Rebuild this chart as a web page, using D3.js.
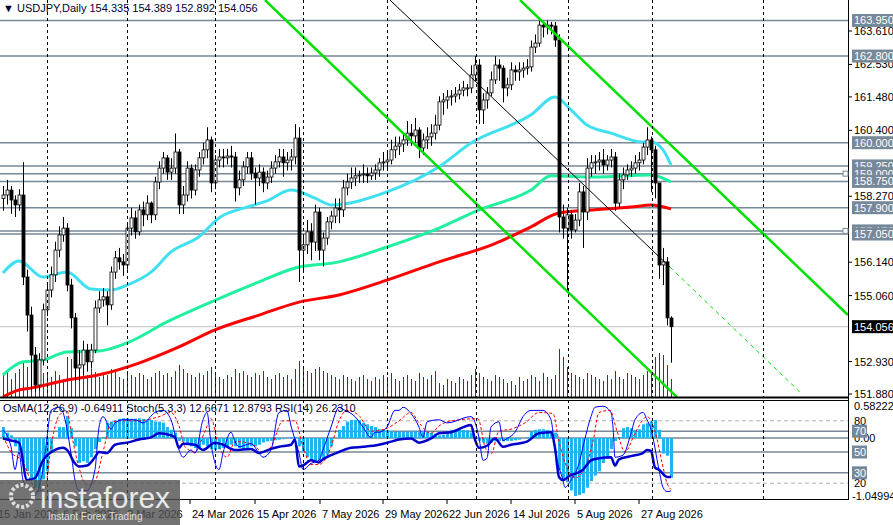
<!DOCTYPE html>
<html>
<head>
<meta charset="utf-8">
<script src="https://d3js.org/d3.v7.min.js"></script>
<style>
  body { margin: 0; background: #fff; }
  svg { display: block; font-family: "Liberation Sans", Arial, sans-serif; }
</style>
</head>
<body>
<svg id="chart" width="893" height="525"></svg>
<script>
// daily closes, USDJPY
var closes = [158.31,158.47,158.15,157.99,158.31,155.66,154.43,153.14,152.17,152.98,
154.60,155.24,155.73,156.53,157.02,157.24,155.40,154.34,152.72,152.82,
153.30,152.92,153.30,154.66,154.92,155.02,154.76,155.82,156.28,156.15,
156.05,157.24,157.57,157.12,157.83,157.67,158.05,157.67,158.73,159.18,
159.51,159.05,159.18,159.70,157.99,158.31,159.18,158.47,159.12,159.51,
159.77,160.09,158.70,159.44,159.54,159.51,159.57,159.54,158.54,158.80,
159.22,159.51,159.02,158.86,159.05,158.70,158.89,159.18,159.38,159.54,
159.35,159.44,159.54,160.15,156.53,156.70,157.12,156.79,157.76,156.53,
156.92,157.44,157.63,157.89,157.83,158.54,158.73,158.86,158.93,158.96,
158.99,158.93,159.02,159.12,159.35,159.38,159.44,159.77,159.89,159.96,
160.09,160.31,160.22,160.41,159.83,160.09,160.19,160.31,160.57,161.32,
161.38,161.48,161.51,161.57,161.70,161.77,161.77,162.19,162.51,161.06,
161.38,161.61,162.03,162.51,162.41,161.77,161.87,162.35,162.29,162.35,
162.41,162.45,163.09,163.22,163.80,163.74,163.80,163.77,163.32,157.60,
157.24,157.67,157.18,157.50,158.41,157.76,159.18,159.35,159.38,159.44,
159.28,159.44,159.54,158.05,158.80,158.96,159.12,159.18,159.35,159.44,
159.86,160.09,159.77,158.70,156.05,156.15,154.34,154.056];
var opens = [158.20].concat(closes.slice(0, -1));
opens[167] = 154.335;
var highs = [158.6,158.8,158.6,158.3,158.5,159.37,155.9,154.7,153.4,153.2,
154.8,155.4,156.0,156.8,157.3,157.6,157.4,155.6,154.5,153.3,
153.6,153.5,153.5,154.9,155.2,155.3,155.2,156.0,156.5,156.6,
156.4,157.4,157.9,157.8,158.0,158.1,158.3,158.1,158.9,159.4,
159.7,159.6,159.5,160.3,159.8,158.6,159.4,159.3,159.3,159.7,
160.0,160.5,160.2,159.6,159.8,159.8,159.8,159.9,159.7,159.1,
159.4,159.7,159.7,159.2,159.3,159.2,159.1,159.4,159.6,159.8,
159.8,159.7,159.8,160.6,160.5,157.0,157.5,157.4,158.0,157.9,
157.1,157.6,157.8,158.2,158.2,158.8,159.0,159.2,159.2,159.1,
159.3,159.2,159.2,159.3,159.5,159.7,159.7,160.1,160.2,160.2,
160.3,160.7,160.6,160.8,160.5,160.3,160.5,160.6,160.9,161.5,
161.6,161.7,161.7,161.8,161.9,162.0,161.9,162.5,162.8,162.7,
161.6,161.8,162.3,162.8,162.7,162.5,162.1,162.6,162.5,162.6,
162.6,162.7,163.3,163.5,163.95,163.9,163.95,163.9,163.9,163.5,
158.0,157.9,157.8,157.7,158.7,158.6,159.5,159.6,159.6,159.7,
159.8,159.6,159.8,159.7,159.0,159.2,159.3,159.4,159.6,159.7,
160.0,160.5,160.2,159.9,158.7,156.6,156.3,154.389];
var lows = [157.8,158.0,157.7,157.6,157.8,155.4,153.9,152.0,151.95,152.0,
152.8,154.4,155.0,155.5,156.3,156.8,155.2,154.0,152.3,152.3,
152.5,152.6,152.7,153.2,154.5,154.7,154.1,154.6,155.6,155.9,
155.7,155.9,157.0,156.9,157.0,157.3,157.5,157.4,157.5,158.5,
159.0,158.8,158.8,159.0,157.7,157.7,158.1,158.2,158.3,158.9,
159.3,159.5,158.4,158.5,159.2,159.2,159.3,159.2,158.1,158.3,
158.6,159.0,158.8,158.0,158.6,158.4,158.5,158.7,159.0,159.2,
158.9,159.1,159.1,159.3,155.5,155.8,156.4,156.2,156.5,156.2,
156.0,156.7,157.2,157.4,157.4,157.6,158.3,158.5,158.6,158.7,
158.7,158.7,158.8,158.8,158.9,159.1,159.1,159.3,159.5,159.6,
159.7,159.9,159.9,160.0,159.5,159.6,159.8,159.9,160.1,160.4,
160.9,161.1,161.2,161.3,161.4,161.5,161.5,161.6,162.0,160.6,
160.6,161.1,161.5,161.9,162.0,161.3,161.5,161.7,162.0,162.0,
162.1,162.2,162.3,162.9,163.1,163.4,163.5,163.5,163.1,157.1,
156.9,155.2,156.9,157.1,157.3,156.6,157.5,158.9,159.0,159.1,
159.0,159.1,159.2,157.8,157.9,158.5,158.8,158.9,159.0,159.1,
159.3,159.6,158.4,158.2,155.6,155.4,154.1,152.892];
var volumes = [22,25,18,24,28,36,30,34,28,26, 24,22,20,26,22,18,40,38,34,30,
26,22,28,25,20,24,22,28,26,20, 18,26,22,20,24,22,18,20,24,26,
22,24,20,26,32,28,24,22,20,24, 22,26,30,24,20,18,22,20,28,24,
26,22,20,24,22,26,20,18,22,24, 20,22,18,28,36,30,26,24,28,30,
26,24,22,20,18,22,20,18,16,20, 22,18,16,20,18,22,20,24,18,16,
20,22,18,16,24,20,18,22,26,14, 12,18,16,14,20,18,16,22,28,24,
20,18,16,22,20,18,14,16,12,20, 16,18,22,20,16,24,20,18,22,48,
40,30,24,22,20,18,24,22,20,18, 16,22,18,26,20,18,24,22,20,18,
22,26,24,40,44,42,32,18];

// moving averages, [bar, price]
var maFast = [[0,155.79],[4,156.18],[10,155.66],[16,155.82],[22,155.27],[27,155.24],[31,155.40],[37,155.82],[42,156.47],[49,156.96],[54,157.57],[61,157.92],[66,158.12],[72,158.47],[78,158.21],[82,157.99],[96,158.41],[109,159.22],[117,159.99],[132,160.90],[138,161.48],[142,161.06],[146,160.57],[152,160.31],[160,160.02],[162,160.02],[165,159.77],[167,159.28]];
var maMid = [[0,152.50],[5,152.92],[10,152.98],[16,153.24],[24,153.27],[31,153.53],[41,154.21],[52,154.85],[64,155.50],[73,155.95],[84,156.15],[96,156.63],[109,157.24],[119,157.83],[132,158.47],[137,158.93],[148,158.89],[162,158.96],[167,158.73]];
var maSlow = [[0,151.79],[4,152.01],[7,152.07],[16,152.33],[24,152.50],[34,152.88],[44,153.40],[53,153.95],[64,154.43],[74,154.85],[84,155.08],[96,155.56],[109,156.15],[123,156.74],[132,157.28],[139,157.73],[148,157.83],[157,157.92],[162,157.99],[167,157.86]];

// trend channel lines [bar, price]
var channelA = [[65.5,164.61],[168.5,151.78]];
var channelB = [[129.25,164.61],[211.25,154.43]];
var trendThin = [[96.75,164.61],[166.75,155.98]];
var trendDash = [[166.75,155.98],[199.25,151.94]];

var levels = [163.95,162.80,160.00,159.25,159.00,158.75,157.90,157.15,157.05];
var priceTicks = [163.610,162.530,161.480,160.400,158.270,156.140,155.060,152.930,151.880];
var lastPrice = 154.056;

// oscillators
var osma = [0.2,0.1,0.05,-0.15,-0.25,-0.45,-0.6,-0.75,-0.9,-0.98,
-0.75,-0.6,-0.27,0.0,0.2,0.2,0.4,0.18,-0.15,-0.45,
-0.42,-0.45,-0.35,-0.2,-0.07,0.02,0.28,0.3,0.32,0.35,
0.36,0.36,0.35,0.35,0.36,0.35,0.34,0.33,0.3,0.3,
0.28,0.2,0.15,0.1,-0.05,-0.06,-0.1,-0.15,-0.18,-0.2,
-0.12,-0.15,-0.2,-0.22,-0.2,-0.18,-0.15,-0.12,-0.15,-0.18,
-0.2,-0.2,-0.15,-0.15,-0.12,-0.08,-0.06,-0.05,-0.04,-0.03,
-0.02,0.01,0.02,0.02,-0.15,-0.25,-0.35,-0.4,-0.42,-0.42,
-0.38,-0.3,-0.15,0.0,0.15,0.22,0.3,0.33,0.33,0.32,
0.28,0.25,0.22,0.2,0.16,0.15,0.14,0.12,0.12,0.12,
0.11,0.12,0.12,0.13,0.11,0.12,0.11,0.1,0.08,0.05,
0.06,0.1,0.15,0.15,0.16,0.15,0.14,0.1,0.02,-0.05,
-0.08,-0.1,-0.08,-0.06,-0.05,-0.06,-0.05,-0.05,-0.04,-0.03,
0.0,0.02,0.12,0.15,0.16,0.16,0.15,0.13,0.1,-0.58,
-0.75,-0.8,-0.95,-1.05,-1.03,-1.0,-0.9,-0.78,-0.68,-0.6,
-0.45,-0.37,-0.2,-0.05,0.02,0.18,0.2,0.18,0.15,0.16,
0.25,0.27,0.3,0.33,0.15,-0.28,-0.32,-0.72];
var rsi = [[0,63],[2,61],[4,59],[6,23],[8,25],[10,42],[13,52],[15,54],[16,52],[18,39],[19,36],[21,37],[23,45],[24,50],[26,49],[28,57],[31,59],[34,62],[37,64],[39,68],[42,66],[43,64],[44,54],[45,58],[48,57],[50,52],[53,59],[55,57],[58,52],[62,53],[64,49],[67,53],[69,55],[72,57],[73,62],[74,36],[75,37],[77,42],[79,40],[80,43],[82,47],[84,50],[87,54],[90,55],[94,57],[97,60],[99,62],[102,63],[104,59],[107,63],[109,68],[112,69],[117,76],[118,62],[119,54],[121,56],[123,63],[125,55],[127,57],[131,60],[134,68],[137,69],[138,54],[139,26],[140,23],[142,28],[143,29],[145,33],[147,42],[149,44],[152,45],[153,37],[154,43],[157,46],[160,49],[161,52],[162,51],[163,35],[164,33],[166,26],[167,26]];
var stochMain = [[0,71],[2,55],[3,33],[4,50],[5,23],[7,11],[7.5,7],[10,33],[11,64],[12,90],[14,93],[15,88],[17,49],[18,23],[19,13],[21,13],[23,33],[24,74],[25,84],[27,72],[28,78],[30,81],[33,81],[35,78],[38,88],[40,90],[42,81],[44,52],[45,45],[47,52],[48,49],[50,81],[51,88],[52,58],[54,33],[55,49],[57,69],[58,60],[59,55],[62,58],[64,49],[65,45],[67,52],[69,88],[71,90],[72,75],[73,62],[74,49],[75,33],[77,39],[79,42],[80,52],[82,74],[84,93],[85,91],[88,84],[90,74],[92,64],[93,69],[94,69],[96,74],[98,90],[99,90],[100,93],[102,87],[104,74],[105,64],[106,79],[109,81],[111,78],[117,84],[119,64],[120,42],[121,44],[122,74],[124,79],[125,61],[126,63],[128,69],[130,84],[132,90],[135,90],[137,81],[138,52],[140,23],[140.5,16],[142,23],[144,39],[145,55],[147,84],[148,93],[150,94],[152,88],[152.5,74],[153,45],[155,47],[157,68],[158,81],[160,88],[161,81],[162,72],[164,33],[165,16],[166,12],[167,12.6]];
var stochSignal = [[0,65],[2,50],[5,40],[7,22],[8.5,12],[10.5,15],[12,55],[14,85],[16,90],[17,70],[19,35],[21,18],[23,22],[25,50],[27,78],[29,80],[34,80],[39,84],[42,88],[44,75],[45.5,55],[48,50],[50.5,70],[52,82],[54,55],[56,45],[58,60],[62,58],[65,50],[67,55],[70,80],[73,80],[75,55],[77,38],[79,38],[82,55],[84,80],[86,90],[89,85],[92,70],[95.5,72],[99,80],[102,88],[104,78],[107,68],[109,75],[112,80],[118.75,82],[120.5,55],[122,48],[124,70],[127,72],[130.5,78],[134,88],[137.5,87],[139,60],[141,35],[143,25],[145.5,35],[147.5,60],[149,88],[151.75,90],[153.5,70],[155.5,50],[158,68],[161,84],[163,70],[164.75,40],[166,20],[167,14]];

var dateLabels = ["15 Jan 2026","6 Feb 2026","2 Mar 2026","24 Mar 2026","15 Apr 2026","7 May 2026","29 May 2026","22 Jun 2026","14 Jul 2026","5 Aug 2026","27 Aug 2026"];
var dateIdx = [-1.75,14.5,30.5,46.75,63,79.25,95,111,127,143,159];
var gridIdx = [11,31,53,75,96,118.25,141.25,162.25,190];
var oscLevels = [70,50,30];
var oscDashed = [80,20];

var svg = d3.select("#chart");
var W = 848;

// scales
var x = d3.scaleLinear().domain([0, 167]).range([3, 671]);
var y = d3.scaleLinear().domain([151.88, 163.61]).range([394, 31]);
var yo = d3.scaleLinear().domain([-1.04994, 0.58222]).range([496, 406]);
var ys = d3.scaleLinear().domain([0, 100]).range([504, 400]);
var yv = d3.scaleLinear().domain([0, 100]).range([397, 297]);

svg.append("clipPath").attr("id", "cm").append("rect").attr("x", 0).attr("y", 0).attr("width", W).attr("height", 397);
svg.append("clipPath").attr("id", "co").append("rect").attr("x", 0).attr("y", 400).attr("width", W).attr("height", 99);

var main = svg.append("g").attr("clip-path", "url(#cm)");
var osc = svg.append("g").attr("clip-path", "url(#co)");

// vertical dashed grid
gridIdx.forEach(function (g) {
  [[0, 397], [400, 499]].forEach(function (r) {
    svg.append("line").attr("x1", Math.round(x(g)) + 0.5).attr("x2", Math.round(x(g)) + 0.5).attr("y1", r[0]).attr("y2", r[1])
      .attr("stroke", "#000").attr("stroke-dasharray", "3,3").attr("stroke-width", 1);
  });
});

// horizontal levels
levels.forEach(function (l) {
  main.append("line").attr("x1", 0).attr("x2", W).attr("y1", y(l)).attr("y2", y(l))
    .attr("stroke", "#778899").attr("stroke-width", 1.5);
});
main.append("line").attr("x1", 0).attr("x2", W).attr("y1", y(lastPrice)).attr("y2", y(lastPrice))
  .attr("stroke", "#c0c0c0");

// volumes
main.selectAll(".vol").data(volumes).enter().append("rect")
  .attr("x", function (d, i) { return Math.round(x(i)); }).attr("width", 1.2)
  .attr("y", function (d) { return yv(d); })
  .attr("height", function (d) { return yv(0) - yv(d); })
  .attr("fill", "#006400").attr("shape-rendering", "crispEdges");

// moving averages
var maLine = d3.line().x(function (d) { return x(d[0]); }).y(function (d) { return y(d[1]); }).curve(d3.curveMonotoneX);
main.append("path").attr("d", maLine(maSlow)).attr("fill", "none").attr("stroke", "#ff0000").attr("stroke-width", 3);
main.append("path").attr("d", maLine(maMid)).attr("fill", "none").attr("stroke", "#20f0a0").attr("stroke-width", 3);
main.append("path").attr("d", maLine(maFast)).attr("fill", "none").attr("stroke", "#40e0f0").attr("stroke-width", 3);

// candles
var candle = main.selectAll(".c").data(closes).enter().append("g");
candle.append("line")
  .attr("x1", function (d, i) { return Math.round(x(i)) + 0.5; }).attr("x2", function (d, i) { return Math.round(x(i)) + 0.5; })
  .attr("y1", function (d, i) { return y(highs[i]); }).attr("y2", function (d, i) { return y(lows[i]); })
  .attr("stroke", "#000");
candle.append("rect")
  .attr("x", function (d, i) { return Math.round(x(i)) - 1; }).attr("width", 3)
  .attr("y", function (d, i) { return y(Math.max(d, opens[i])); })
  .attr("height", function (d, i) { return Math.max(1, Math.abs(y(d) - y(opens[i]))); })
  .attr("fill", function (d, i) { return d >= opens[i] ? "#fff" : "#000"; })
  .attr("stroke", "#000").attr("stroke-width", 0.8);

// trend lines
var tl = d3.line().x(function (d) { return x(d[0]); }).y(function (d) { return y(d[1]); });
main.append("path").attr("d", tl(channelA)).attr("stroke", "#00e000").attr("stroke-width", 2.5).attr("fill", "none");
main.append("path").attr("d", tl(channelB)).attr("stroke", "#00e000").attr("stroke-width", 2.5).attr("fill", "none");
main.append("path").attr("d", tl(trendThin)).attr("stroke", "#000").attr("stroke-width", 1).attr("fill", "none");
main.append("path").attr("d", tl(trendDash)).attr("stroke", "#00e000").attr("stroke-width", 1).attr("stroke-dasharray", "4,4").attr("fill", "none");

// oscillator panel
oscDashed.forEach(function (l) {
  osc.append("line").attr("x1", 0).attr("x2", W).attr("y1", ys(l)).attr("y2", ys(l))
    .attr("stroke", "#b0b0b0").attr("stroke-dasharray", "4,3");
});
oscLevels.forEach(function (l) {
  osc.append("line").attr("x1", 0).attr("x2", W).attr("y1", ys(l)).attr("y2", ys(l)).attr("stroke", "#778899").attr("stroke-width", 1.5);
});
osc.append("line").attr("x1", 0).attr("x2", W).attr("y1", yo(0)).attr("y2", yo(0)).attr("stroke", "#778899").attr("stroke-width", 1.5);

osc.selectAll(".h").data(osma).enter().append("rect")
  .attr("x", function (d, i) { return Math.round(x(i)) - 1; }).attr("width", 3)
  .attr("y", function (d) { return Math.min(yo(d), yo(0)); })
  .attr("height", function (d) { return Math.abs(yo(d) - yo(0)); })
  .attr("fill", "#1eb4f0");

var ol = d3.line().x(function (d) { return x(d[0]); }).y(function (d) { return ys(d[1]); }).curve(d3.curveMonotoneX);
osc.append("path").attr("d", ol(stochSignal)).attr("fill", "none").attr("stroke", "#ff0000").attr("stroke-width", 1).attr("stroke-dasharray", "3,2");
osc.append("path").attr("d", ol(stochMain)).attr("fill", "none").attr("stroke", "#0000ff").attr("stroke-width", 1);
osc.append("path").attr("d", ol(rsi)).attr("fill", "none").attr("stroke", "#0000cd").attr("stroke-width", 2.5);

// frames
svg.append("line").attr("x1", W + 0.5).attr("x2", W + 0.5).attr("y1", 0).attr("y2", 500).attr("stroke", "#000");
svg.append("line").attr("x1", 0).attr("x2", W).attr("y1", 397.5).attr("y2", 397.5).attr("stroke", "#000").attr("stroke-width", 2);
svg.append("line").attr("x1", 0).attr("x2", W).attr("y1", 400.5).attr("y2", 400.5).attr("stroke", "#000");
svg.append("line").attr("x1", 0).attr("x2", W).attr("y1", 499.5).attr("y2", 499.5).attr("stroke", "#000");

// right price axis
var ax = svg.append("g").attr("font-size", 11);
priceTicks.forEach(function (p) {
  ax.append("line").attr("x1", W).attr("x2", W + 4).attr("y1", y(p)).attr("y2", y(p)).attr("stroke", "#000");
  ax.append("text").attr("x", W + 6).attr("y", y(p) + 4).text(p.toFixed(3));
});
levels.forEach(function (l) {
  ax.append("rect").attr("x", W + 4).attr("y", y(l) - 6.5).attr("width", 41).attr("height", 13).attr("fill", "#778899");
  ax.append("text").attr("x", W + 6).attr("y", y(l) + 4).attr("fill", "#fff").text(l.toFixed(3));
});
ax.append("rect").attr("x", W + 4).attr("y", y(lastPrice) - 6.5).attr("width", 41).attr("height", 13).attr("fill", "#000");
ax.append("text").attr("x", W + 6).attr("y", y(lastPrice) + 4).attr("fill", "#fff").text(lastPrice.toFixed(3));
[159.00, 157.15].forEach(function (l) {
  svg.append("rect").attr("x", W - 5).attr("y", y(l) - 2.5).attr("width", 5).attr("height", 5).attr("fill", "#fff").attr("stroke", "#778899");
});

// oscillator axis
ax.append("text").attr("x", W + 6).attr("y", yo(0.58222) + 4).text("0.58222");
ax.append("text").attr("x", W + 4).attr("y", yo(-1.04994) + 4).text("-1.04994");
ax.append("text").attr("x", W + 6).attr("y", yo(0) + 4).text("0.00");
oscDashed.forEach(function (l) {
  ax.append("text").attr("x", W + 6).attr("y", ys(l) + 4).text(l);
});
oscLevels.forEach(function (l) {
  ax.append("rect").attr("x", W + 4).attr("y", ys(l) - 6.5).attr("width", 15).attr("height", 13).attr("fill", "#778899");
  ax.append("text").attr("x", W + 6).attr("y", ys(l) + 4).attr("fill", "#fff").text(l);
});

// date axis
dateLabels.forEach(function (d, i) {
  svg.append("line").attr("x1", x(dateIdx[i])).attr("x2", x(dateIdx[i])).attr("y1", 500).attr("y2", 504).attr("stroke", "#000");
  svg.append("text").attr("x", x(dateIdx[i]) + 2).attr("y", 518).attr("font-size", 11).text(d);
});

// headers
svg.append("text").attr("x", 3).attr("y", 12).attr("font-size", 11).attr("fill", "#000033")
  .text("\u25BC USDJPY,Daily  154.335 154.389 152.892 154.056");
svg.append("text").attr("x", 3).attr("y", 412).attr("font-size", 11).attr("fill", "#000033")
  .text("OsMA(12,26,9) -0.64911  Stoch(5,3,3) 12.6671 12.8793  RSI(14) 26.2310");

// logo
var logo = svg.append("g");
logo.append("rect").attr("x", 0).attr("y", 480).attr("width", 180).attr("height", 45).attr("fill", "#505050").attr("opacity", 0.8);
logo.append("circle").attr("cx", 22).attr("cy", 496).attr("r", 11).attr("fill", "none").attr("stroke", "#ddd").attr("stroke-width", 4).attr("stroke-dasharray", "3,2");
logo.append("text").attr("x", 40).attr("y", 508).attr("font-size", 30).attr("fill", "#e8e8e8").text("instaforex");
logo.append("text").attr("x", 48).attr("y", 520).attr("font-size", 10).attr("fill", "#e0e0e0").text("Instant Forex Trading");
</script>
</body>
</html>
